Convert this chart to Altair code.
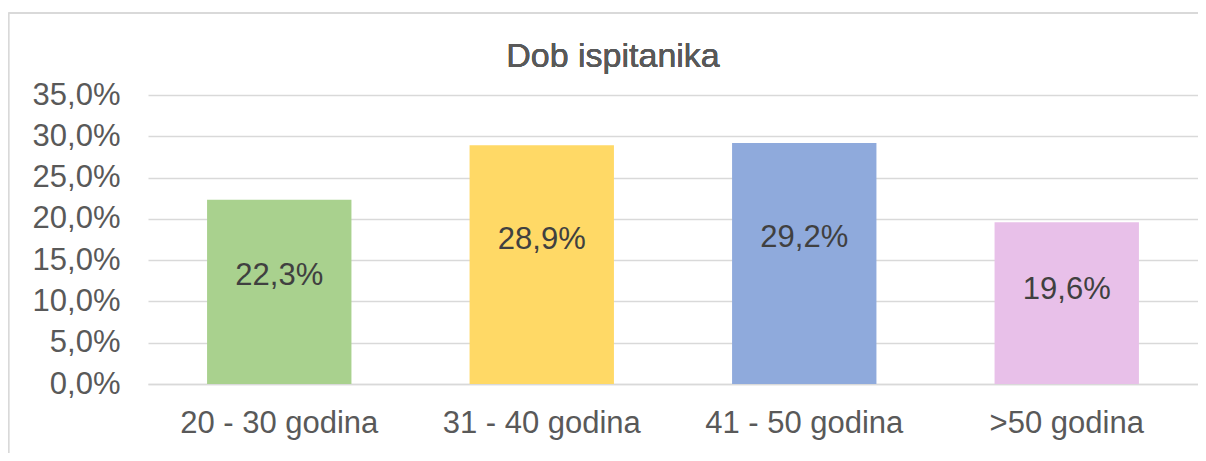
import altair as alt
import pandas as pd

categories = ["20 - 30 godina", "31 - 40 godina", "41 - 50 godina", ">50 godina"]
values = [22.3, 28.9, 29.2, 19.6]
colors = ["#a9d18e", "#ffd966", "#8faadc", "#e8c0e9"]
y_ticks = [0, 5, 10, 15, 20, 25, 30, 35]
title_text = "Dob ispitanika"

df = pd.DataFrame({"cat": categories, "value": values})

FONT = "Liberation Sans"
PLOT_W, PLOT_H = 1050, 289

x = alt.X("cat:N", sort=categories, title=None,
          scale=alt.Scale(paddingInner=0.45, paddingOuter=0.225),
          axis=alt.Axis(labelAngle=0, labelFontSize=31, labelColor="#595959",
                        labelFont=FONT, labelPadding=24, labelLimit=0,
                        ticks=False, tickSize=0,
                        domainColor="#d9d9d9", domainWidth=1.5, grid=False))
y = alt.Y("value:Q", title=None,
          scale=alt.Scale(domain=[0, 35], nice=False),
          axis=alt.Axis(values=y_ticks, labelFontSize=31, labelColor="#595959",
                        labelFont=FONT, labelPadding=28, ticks=False, tickSize=0,
                        domain=False, gridColor="#d9d9d9", gridWidth=1.5,
                        labelExpr="replace(format(datum.value, '.1f'), '.', ',') + '%'"))

bars = alt.Chart(df).mark_bar().encode(
    x=x, y=y,
    color=alt.Color("cat:N", sort=categories,
                    scale=alt.Scale(domain=categories, range=colors), legend=None),
)

labels = alt.Chart(df).transform_calculate(
    lab="replace(format(datum.value, '.1f'), '.', ',') + '%'",
    pos="datum.value * 0.654 - 1.45",
).mark_text(font=FONT, fontSize=31, color="#404040", baseline="middle").encode(
    x=alt.X("cat:N", sort=categories),
    y=alt.Y("pos:Q"),
    text="lab:N",
)

title = alt.Chart(df).mark_text(font=FONT, fontSize=34, color="#595959",
                                baseline="alphabetic", align="center").encode(
    x=alt.value(465), y=alt.value(-28), text=alt.value(title_text))

frame_top = alt.Chart(df).mark_rule(color="#d9d9d9", strokeWidth=1.5).encode(
    x=alt.value(-139.5), x2=alt.value(1100), y=alt.value(-82))
frame_left = alt.Chart(df).mark_rule(color="#d9d9d9", strokeWidth=1.5).encode(
    x=alt.value(-139.5), y=alt.value(-82), y2=alt.value(400))

chart = alt.layer(frame_top, frame_left, bars, labels, title).properties(
    width=PLOT_W, height=PLOT_H,
    autosize=alt.AutoSizeParams(type="none"),
    padding={"left": 140, "top": 87, "right": 0, "bottom": 69},
    background="white",
).configure_view(stroke=None)

chart.save("out.html", embed_options={"renderer": "svg", "actions": False})
